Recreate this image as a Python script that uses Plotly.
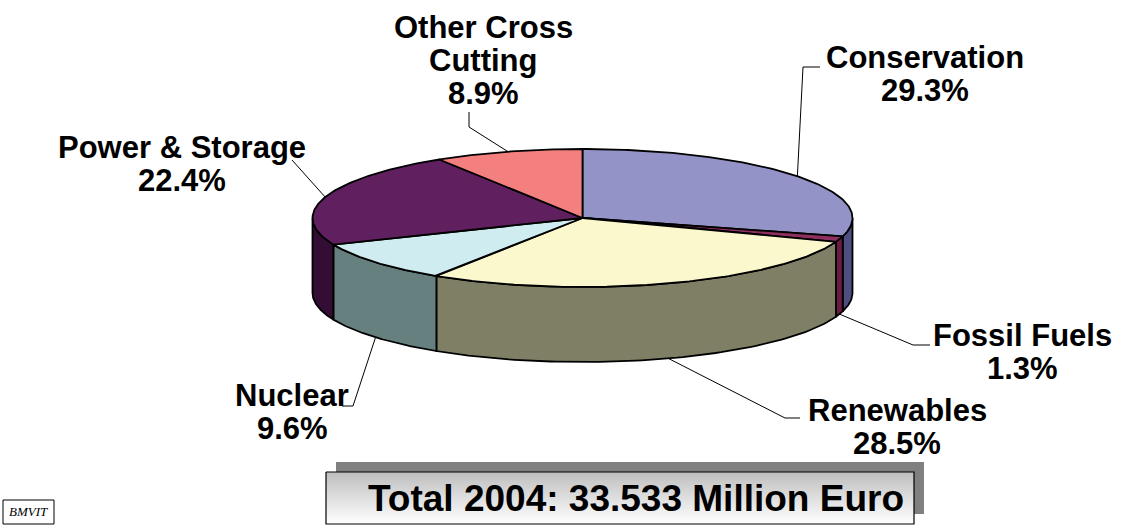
import numpy as np
import plotly.graph_objects as go

# ---- data -------------------------------------------------------------
categories = ["Conservation", "Fossil Fuels", "Renewables", "Nuclear",
              "Power & Storage", "Other Cross Cutting"]
shares = [29.3, 1.3, 28.5, 9.6, 22.4, 8.9]          # percent of total budget
label_lines = [["Conservation"], ["Fossil Fuels"], ["Renewables"], ["Nuclear"],
               ["Power & Storage"], ["Other Cross", "Cutting"]]
total_year = 2004
total_amount = "33.533"

# ---- styling ----------------------------------------------------------
top_colors = ["#9393C8", "#8E2F60", "#FAF8CC", "#CFECF0", "#602060", "#F47F7F"]
side_colors = ["#4E4E80", "#6A1C45", "#7F7F65", "#668080", "#330D33", "#7A3F3F"]
FONT = "Liberation Sans, Arial, sans-serif"

W, H = 1126, 526
CX, CY, RX, RY, DEPTH = 582.5, 218.0, 270.0, 69.0, 75.0

# label placement: centre of first text line, and leader elbow points
label_pos = {
    "Conservation": (925, 57),
    "Fossil Fuels": (1022, 335),
    "Renewables": (897, 410),
    "Nuclear": (292, 395),
    "Power & Storage": (182, 147),
    "Other Cross Cutting": (483, 27),
}
leader_pts = {
    "Conservation": [(803, 67), (820, 67)],
    "Fossil Fuels": [(913, 345), (930, 345)],
    "Renewables": [(785, 418), (800, 418)],
    "Nuclear": [(353, 406), (342, 406)],
    "Power & Storage": [(292, 160)],
    "Other Cross Cutting": [(469, 127), (469, 112)],
}
LINE_GAP = 33


def px(theta):
    return CX + RX * np.cos(np.radians(theta))


def py(theta, drop=0.0):
    return CY - RY * np.sin(np.radians(theta)) + drop


total = sum(shares)
bounds = []
acc = 0.0
for v in shares:
    a0 = 90 - 360 * acc / total
    acc += v
    a1 = 90 - 360 * acc / total
    bounds.append((a0, a1))

fig = go.Figure()

# outer walls, only the front half of the cylinder is visible
for (a0, a1), sc in zip(bounds, side_colors):
    for k in (-1, 0, 1):
        lo = max(a1, -180 + 360 * k)
        hi = min(a0, 360 * k)
        if hi <= lo:
            continue
        t = np.linspace(hi, lo, 80)
        xs = np.concatenate([px(t), px(t[::-1]), [px(hi)]])
        ys = np.concatenate([py(t), py(t[::-1], DEPTH), [py(hi)]])
        fig.add_trace(go.Scatter(x=xs, y=ys, mode="lines", fill="toself",
                                 fillcolor=sc, line=dict(color="black", width=1.8),
                                 hoverinfo="skip", showlegend=False))

# top faces
for (a0, a1), tc in zip(bounds, top_colors):
    t = np.linspace(a0, a1, 120)
    xs = np.concatenate([[CX], px(t), [CX]])
    ys = np.concatenate([[CY], py(t), [CY]])
    fig.add_trace(go.Scatter(x=xs, y=ys, mode="lines", fill="toself",
                             fillcolor=tc, line=dict(color="black", width=1.8),
                             hoverinfo="skip", showlegend=False))

annotations = []
# leader lines + labels
for name, lines, v, (a0, a1) in zip(categories, label_lines, shares, bounds):
    mid = (a0 + a1) / 2
    front = np.sin(np.radians(mid)) < 0
    ax_, ay_ = px(mid), py(mid, DEPTH if front else 0.0)
    pts = [(ax_, ay_)] + leader_pts[name]
    fig.add_trace(go.Scatter(x=[p[0] for p in pts], y=[p[1] for p in pts],
                             mode="lines", line=dict(color="black", width=1),
                             hoverinfo="skip", showlegend=False))
    lx, ly = label_pos[name]
    for i, txt in enumerate(lines + [f"{v:.1f}%"]):
        annotations.append(dict(x=lx, y=ly + i * LINE_GAP, xref="x", yref="y",
                                text=f"<b>{txt}</b>", showarrow=False,
                                xanchor="center", yanchor="middle",
                                font=dict(family=FONT, size=31, color="black")))

# total box with drop shadow
bx0, bx1, by0, by1 = 326, 914, 472, 524
SH = 10
fig.add_trace(go.Scatter(x=[bx0 + SH, bx1 + SH, bx1 + SH, bx0 + SH, bx0 + SH],
                         y=[by0 - SH, by0 - SH, by1 - SH, by1 - SH, by0 - SH],
                         mode="lines", fill="toself", fillcolor="#808080",
                         line=dict(color="#808080", width=0),
                         hoverinfo="skip", showlegend=False))
fig.add_trace(go.Scatter(x=[bx0, bx1, bx1, bx0, bx0], y=[by0, by0, by1, by1, by0],
                         mode="lines", fill="toself",
                         fillgradient=dict(type="vertical",
                                           colorscale=[[0, "#FFFFFF"], [1, "#BEBEBE"]]),
                         line=dict(color="black", width=1.2),
                         hoverinfo="skip", showlegend=False))
annotations.append(dict(x=(bx0 + bx1) / 2 + 16, y=(by0 + by1) / 2, xref="x", yref="y",
                        text=f"<b>Total {total_year}: {total_amount} Million Euro</b>",
                        showarrow=False, xanchor="center", yanchor="middle",
                        font=dict(family=FONT, size=37, color="black")))

# source tag
fig.add_shape(type="rect", xref="x", yref="y", x0=3, x1=54, y0=500, y1=524,
              line=dict(color="black", width=1), fillcolor="white")
annotations.append(dict(x=7, y=511, xref="x", yref="y", text="<i>BMVIT</i>",
                        showarrow=False, xanchor="left", yanchor="middle",
                        font=dict(family="Liberation Serif, serif", size=13,
                                  color="black")))

fig.update_layout(
    width=W, height=H, margin=dict(l=0, r=0, t=0, b=0),
    paper_bgcolor="white", plot_bgcolor="white",
    xaxis=dict(range=[0, W], visible=False, fixedrange=True),
    yaxis=dict(range=[H, 0], visible=False, fixedrange=True),
    annotations=annotations, showlegend=False,
)

fig.write_html("out.html")
